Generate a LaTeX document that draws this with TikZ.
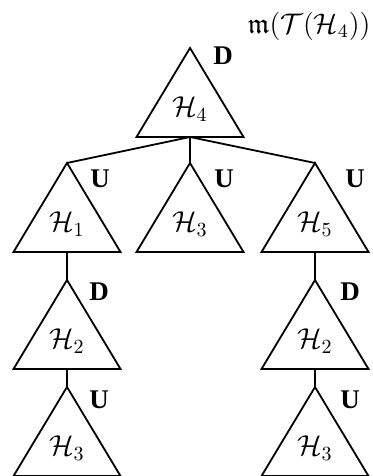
\documentclass[tikz,border=0pt]{standalone}
\usepackage{fontspec}
\setmainfont{Liberation Serif}
\usepackage{amssymb}
\tikzset{
  triline/.style={line width=0.9pt, line join=miter},
  conn/.style={line width=0.9pt},
  tag/.style={font=\fontsize{13.5}{15}\selectfont\bfseries, inner sep=0pt},
  trilabel/.style={font=\Large, inner sep=0pt},
  tri/.pic={
    \coordinate (-apex) at (0,0);
    \coordinate (-base) at (0,89);
    \draw[triline] (0,0) -- (-53.5,89) -- (53.5,89) -- cycle;
    \node[trilabel] (-lbl) at (0,61) {$#1$};
  }
}
\begin{document}
\begin{tikzpicture}[x=0.5pt,y=-0.5pt]
\useasboundingbox (0,0) rectangle (373,476);
% triangles
\pic (top) at (190,48) {tri={\mathcal{H}_4}};
\pic (a1) at (67,163) {tri={\mathcal{H}_1}};
\pic (a3) at (190,163) {tri={\mathcal{H}_3}};
\pic (a5) at (315,163) {tri={\mathcal{H}_5}};
\pic (b2) at (67,280) {tri={\mathcal{H}_2}};
\pic (c3) at (67,387) {tri={\mathcal{H}_3}};
\pic (d2) at (315,280) {tri={\mathcal{H}_2}};
\pic (e3) at (315,387) {tri={\mathcal{H}_3}};
% connectors
\draw[conn] (top-base) -- (a1-apex);
\draw[conn] (top-base) -- (a3-apex);
\draw[conn] (top-base) -- (a5-apex);
\draw[conn] (a1-base) -- (b2-apex);
\draw[conn] (b2-base) -- (c3-apex);
\draw[conn] (a5-base) -- (d2-apex);
\draw[conn] (d2-base) -- (e3-apex);
% tags
\node[tag] (ttop) at (223,56) {D};
\node[tag] (ta1) at (100,179) {U};
\node[tag] (ta3) at (224,179) {U};
\node[tag] (ta5) at (355,179) {U};
\node[tag] (tb2) at (99,292) {D};
\node[tag] (td2) at (350,292) {D};
\node[tag] (tc3) at (99,400) {U};
\node[tag] (te3) at (350,400) {U};
% title
\node[inner sep=0pt, anchor=east, font=\large, scale=1.18] (title) at (371,26) {$\mathfrak{m}(\mathcal{T}(\mathcal{H}_4))$};
\end{tikzpicture}
\end{document}
